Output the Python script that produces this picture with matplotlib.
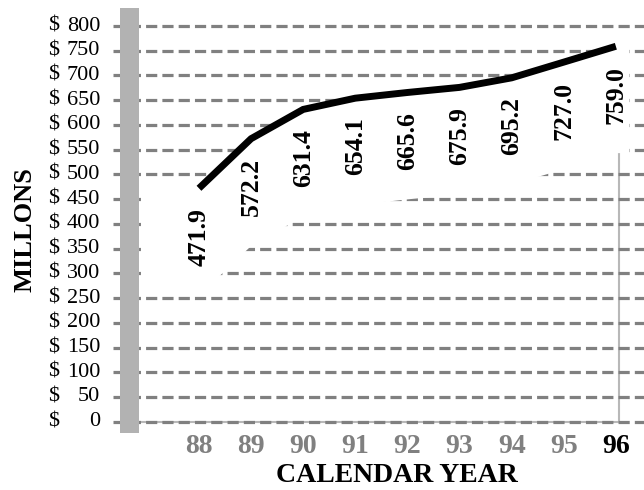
import matplotlib
matplotlib.use("Agg")
import matplotlib.pyplot as plt
import matplotlib.patches as patches
import numpy as np

plt.rcParams['font.family'] = ['Liberation Serif', 'DejaVu Serif']

# calendar years and spending (millions of dollars)
years = [88, 89, 90, 91, 92, 93, 94, 95, 96]
values = [471.9, 572.2, 631.4, 654.1, 665.6, 675.9, 695.2, 727.0, 759.0]
grid_values = list(range(0, 801, 50))
year_colors = ['#808080'] * 8 + ['black']

GRID_GRAY = '#808080'
WALL_GRAY = '#b2b2b2'
FRAME_GRAY = '#b8b8b8'

fig = plt.figure(figsize=(6.44, 4.90), dpi=100)
ax = fig.add_axes([113 / 644, 57 / 490, 531 / 644, 425 / 490])
ax.set_xlim(86.35, 96.54)
ax.set_ylim(-22.8, 836.4)
for s in ax.spines.values():
    s.set_visible(False)
ax.set_yticks([])

# dashed grid lines across the back wall
for v in grid_values:
    ax.axhline(v, color=GRID_GRAY, lw=2.3, dashes=(3.5, 1.6), zorder=1)

# floor edge and right edge of the back wall
ax.plot([86.85, 96.06], [0, 0], color=FRAME_GRAY, lw=1.5, zorder=0.5)
ax.plot([96.06, 96.06], [0, 700], color=FRAME_GRAY, lw=1.5, zorder=0.5)

# white ribbon face under the line
depth = 215
xs = np.linspace(86.9, 96.25, 200)
top = np.interp(xs, years, values)
bottom = np.interp(xs, years, np.array(values) - depth)
ax.fill_between(xs, bottom, top, color='white', lw=0, zorder=2)

# spending line
ax.plot(years, values, color='black', lw=5, solid_joinstyle='miter',
        solid_capstyle='butt', zorder=3)

# value labels under each point
for yr, v in zip(years, values):
    ax.annotate(f"{v:.1f}", (yr, v), xytext=(0, -14), textcoords='offset points',
                rotation=90, ha='center', va='top', fontsize=18.5,
                fontweight='bold', zorder=4)

# gray side wall
wall = patches.Rectangle((7 / 531, 0), 19 / 531, 1, transform=ax.transAxes,
                         facecolor=WALL_GRAY, edgecolor='none', zorder=5,
                         clip_on=False)
ax.add_patch(wall)

# y axis labels: dollar sign on the left, amount right-aligned
ytrans = ax.get_yaxis_transform()
for v in grid_values:
    ax.text(-65 / 531, v, "$", transform=ytrans, ha='left', va='center',
            fontsize=16)
    ax.text(-13 / 531, v, f"{v}", transform=ytrans, ha='right', va='center',
            fontsize=16)

# x axis labels
ax.set_xticks(years)
ax.set_xticklabels([str(y) for y in years], fontsize=20, fontweight='bold')
for lbl, c in zip(ax.get_xticklabels(), year_colors):
    lbl.set_color(c)
ax.tick_params(axis='x', length=0, pad=1)

fig.text(397 / 644, 1 - 475 / 490, "CALENDAR YEAR", ha='center', va='center',
         fontsize=20, fontweight='bold')
fig.text(25 / 644, 1 - 230 / 490, "MILLONS", ha='center', va='center',
         rotation=90, fontsize=19, fontweight='bold')

fig.savefig('out.png', dpi=100)
